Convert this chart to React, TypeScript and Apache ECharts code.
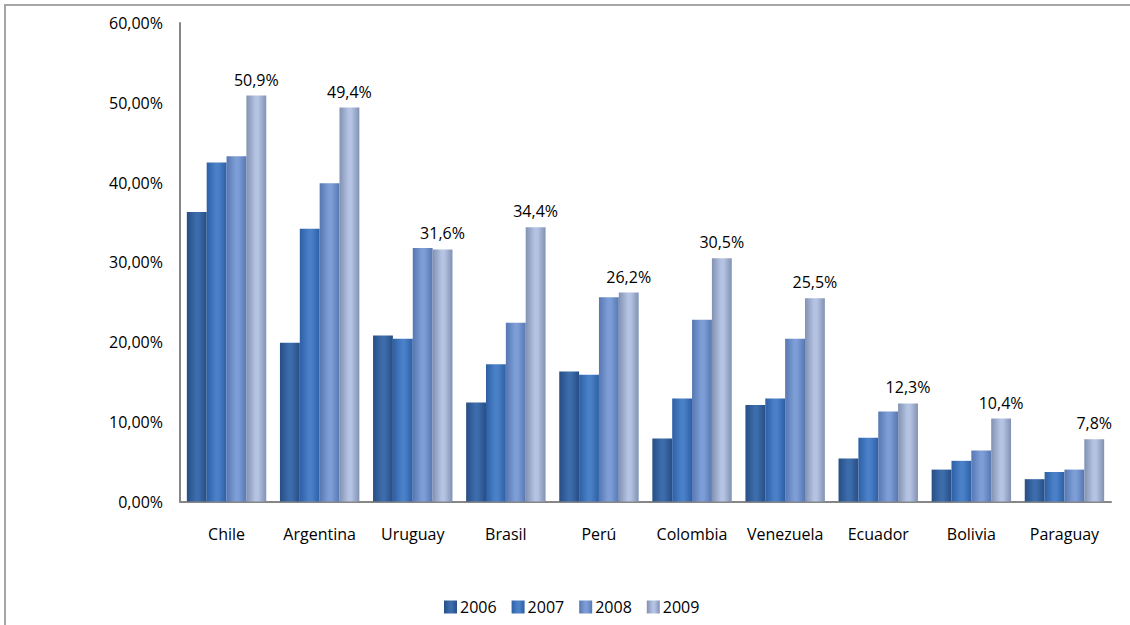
import React, { useEffect, useRef } from "react";
import * as echarts from "echarts";

const categories = ["Chile", "Argentina", "Uruguay", "Brasil", "Perú", "Colombia", "Venezuela", "Ecuador", "Bolivia", "Paraguay"];
const years = ["2006", "2007", "2008", "2009"];
const v2006 = [36.3, 19.9, 20.8, 12.4, 16.3, 7.9, 12.1, 5.4, 4.0, 2.8];
const v2007 = [42.5, 34.2, 20.4, 17.2, 15.9, 12.9, 12.9, 8.0, 5.1, 3.7];
const v2008 = [43.3, 39.9, 31.8, 22.4, 25.6, 22.8, 20.4, 11.3, 6.4, 4.0];
const v2009 = [50.9, 49.4, 31.6, 34.4, 26.2, 30.5, 25.5, 12.3, 10.4, 7.8];
const yTicks = { min: 0, max: 60, interval: 10 };

const palette = [
  { edge: "#274d84", mid: "#3c6cab" },
  { edge: "#2d5fa4", mid: "#4a80c8" },
  { edge: "#5677b2", mid: "#7d9dd6" },
  { edge: "#8191b1", mid: "#b5c3e3" },
];

const FONT = "'Open Sans', sans-serif";

export default function App() {
  const ref = useRef<HTMLDivElement>(null);
  useEffect(() => {
    if (!ref.current) return;
    const chart = echarts.init(ref.current, null, { renderer: "svg" });
    const all = [v2006, v2007, v2008, v2009];
    const series = years.map((y, i) => ({
      name: y,
      type: "bar",
      data: all[i],
      barGap: "0%",
      barCategoryGap: "14.7%",
      itemStyle: {
        color: new echarts.graphic.LinearGradient(0, 0, 1, 0, [
          { offset: 0, color: palette[i].edge },
          { offset: 0.45, color: palette[i].mid },
          { offset: 0.6, color: palette[i].mid },
          { offset: 1, color: palette[i].edge },
        ]),
      },
      label:
        i === 3
          ? {
              show: true,
              position: "top",
              distance: 8,
              color: "#000",
              fontFamily: FONT,
              fontSize: 16,
              formatter: (p: any) => p.value.toFixed(1).replace(".", ",") + "%",
            }
          : { show: false },
    }));
    chart.setOption({
      animation: false,
      backgroundColor: "#fff",
      graphic: [
        {
          type: "rect",
          shape: { x: 5, y: 5, width: 1200, height: 700 },
          style: { fill: "none", stroke: "#a6a6a6", lineWidth: 2 },
          silent: true,
        },
      ],
      grid: { left: 180, right: 19, top: 23, bottom: 123.5 },
      legend: {
        data: years,
        left: 439,
        top: 594,
        itemWidth: 13,
        itemHeight: 13,
        itemGap: 15,
        icon: "rect",
        textStyle: { fontFamily: FONT, fontSize: 16, color: "#000", padding: [0, 0, 0, -2] },
      },
      xAxis: {
        type: "category",
        data: categories,
        axisLine: { lineStyle: { color: "#868686", width: 2 } },
        axisTick: { show: false },
        axisLabel: { interval: 0, color: "#000", fontFamily: FONT, fontSize: 16, margin: 24 },
      },
      yAxis: {
        type: "value",
        min: yTicks.min,
        max: yTicks.max,
        interval: yTicks.interval,
        axisLine: { show: true, lineStyle: { color: "#868686", width: 2 } },
        axisTick: { show: false },
        splitLine: { show: false },
        axisLabel: {
          color: "#000",
          fontFamily: FONT,
          fontSize: 16,
          margin: 17,
          formatter: (v: number) => v.toFixed(2).replace(".", ",") + "%",
        },
      },
      series,
    });
    return () => chart.dispose();
  }, []);
  return (
    <div
      ref={ref}
      style={{ position: "fixed", left: 0, top: 0, width: 1130, height: 625 }}
    />
  );
}
